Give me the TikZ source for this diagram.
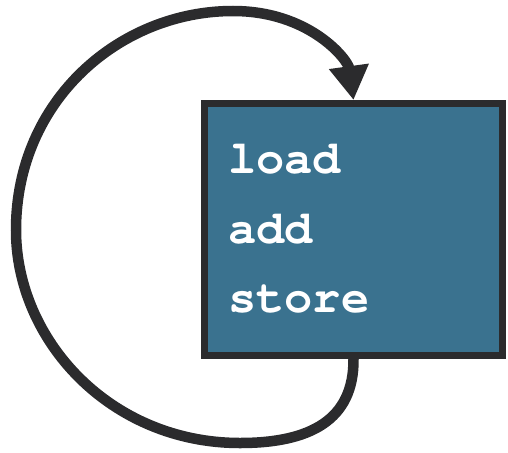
\documentclass[tikz,border=0pt]{standalone}
\usepackage{fontspec}
\setmonofont{TeX Gyre Cursor}
\usetikzlibrary{arrows.meta}
\definecolor{boxfill}{HTML}{3A728F}
\definecolor{ink}{HTML}{2B2B2D}
\begin{document}
\begin{tikzpicture}[x=1pt,y=-1pt,
  code/.style={font=\ttfamily\bfseries\fontsize{47}{47}\selectfont, text=white, anchor=base west, inner sep=0pt},
  block/.style={draw=ink, line width=7pt, fill=boxfill, inner sep=0pt, minimum width=298pt, minimum height=252pt},
  loop/.style={draw=ink, line width=10.5pt, -{Triangle[length=34pt,width=38pt]}}]
\useasboundingbox (0,0) rectangle (508,452);
% the program block
\node[block, anchor=north west] (box) at (201,100) {};
\node[code] (l1) at (228,173) {load};
\node[code] (l2) at (228,243) {add};
\node[code] (l3) at (228,312) {store};
% loop back from the bottom of the block to its top
\draw[loop] (box.south)
  .. controls (354,420) and (310,443) .. (240,443)
  .. controls (110,443) and (16,340) .. (16,230)
  .. controls (16,100) and (120,11) .. (233,11)
  .. controls (310,11) and (348,60) .. (box.north);
\end{tikzpicture}
\end{document}
